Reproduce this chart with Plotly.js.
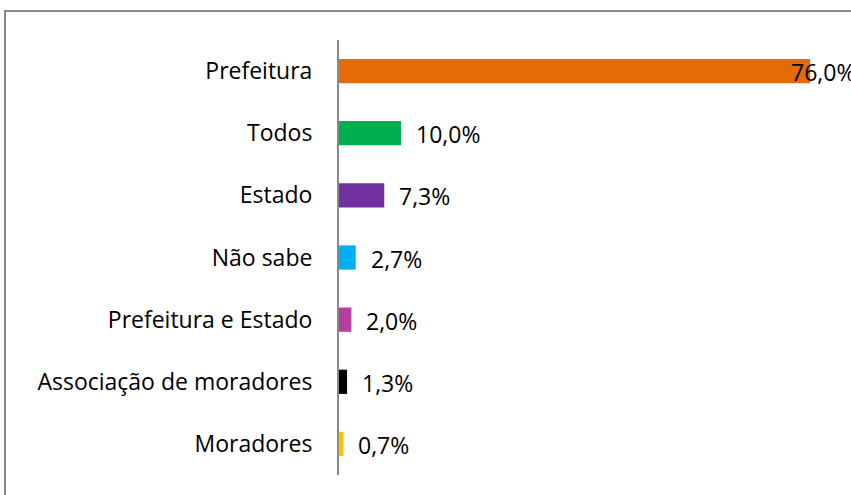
<!DOCTYPE html>
<html>
<head>
<meta charset="utf-8">
<script src="https://cdn.plot.ly/plotly-3.0.1.min.js"></script>
<style>
  html, body { margin: 0; padding: 0; background: #fff; overflow: hidden; }
  #frame { position: absolute; left: 4px; top: 10px; width: 900px; height: 600px;
           border: 2px solid #898989; box-sizing: border-box; }
  #chart { position: absolute; left: 0; top: 0; width: 851px; height: 495px; }
</style>
</head>
<body>
<div id="frame"></div>
<div id="chart"></div>
<script>
const categories = ["Moradores", "Associação de moradores", "Prefeitura e Estado", "Não sabe", "Estado", "Todos", "Prefeitura"];
const values = [0.007, 0.013, 0.020, 0.027, 0.073, 0.100, 0.760];
const labels = ["0,7%", "1,3%", "2,0%", "2,7%", "7,3%", "10,0%", "76,0%"];
const colors = ["#FFC000", "#000000", "#B83DA0", "#00B0F0", "#7030A0", "#00B050", "#E36C09"];

const font = { family: "'Open Sans', 'Noto Sans', sans-serif", size: 23, color: "#000" };

const trace = {
  type: "bar",
  orientation: "h",
  y: categories,
  x: values,
  marker: { color: colors },
  hoverinfo: "skip"
};

const annotations = values.map((v, i) => ({
  x: v, y: categories[i], xref: "x", yref: "y",
  text: labels[i], showarrow: false,
  xanchor: "left", yanchor: "middle",
  xshift: v > 0.5 ? -21 : 13,
  yshift: -1,
  font: font
}));

const layout = {
  width: 851, height: 495,
  margin: { l: 339, r: 16, t: 40, b: 20 },
  paper_bgcolor: "rgba(0,0,0,0)",
  plot_bgcolor: "rgba(0,0,0,0)",
  showlegend: false,
  bargap: 0.61,
  xaxis: { range: [0, 0.8], visible: false, showgrid: false, zeroline: false, fixedrange: true },
  yaxis: {
    type: "category",
    showline: true, linecolor: "#898989", linewidth: 2,
    showgrid: false, zeroline: false,
    ticks: "", ticklabelstandoff: 20,
    tickfont: font, fixedrange: true
  },
  annotations: annotations
};

Plotly.newPlot("chart", [trace], layout, { displayModeBar: false, staticPlot: true });
</script>
</body>
</html>
